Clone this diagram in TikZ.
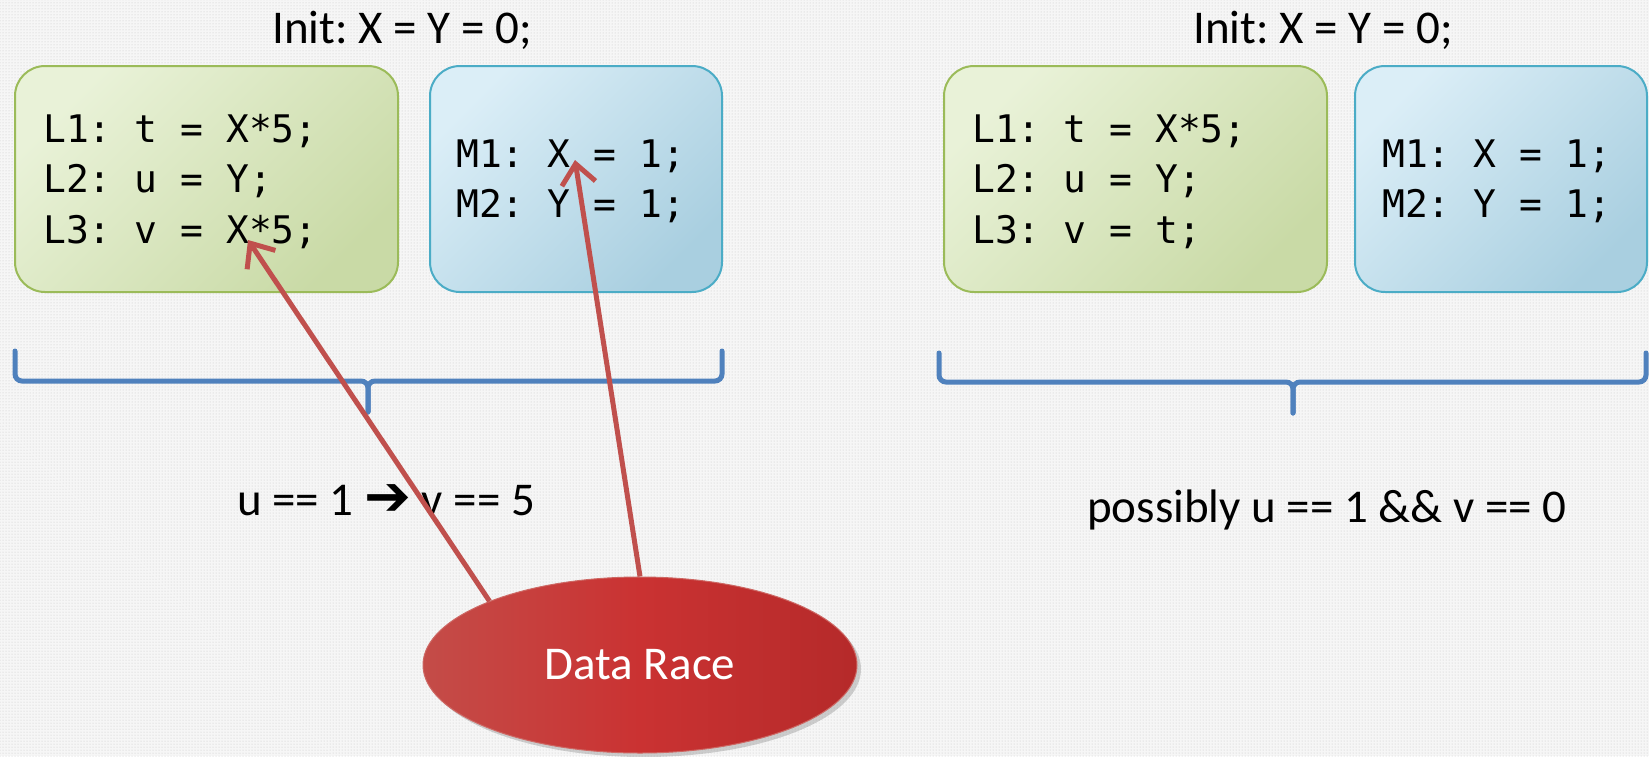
\documentclass[tikz,border=0pt]{standalone}
\usepackage{fontspec}
\setmainfont{Carlito}
\newfontfamily\codefont{DejaVu Sans Mono}
\newfontfamily\dingfont{DejaVu Sans}
\usetikzlibrary{arrows.meta,shapes.geometric,shadows,patterns}

\definecolor{boxgreenA}{RGB}{233,242,216}
\definecolor{boxgreenB}{RGB}{201,218,166}
\definecolor{boxgreenLine}{RGB}{155,187,89}
\definecolor{boxblueA}{RGB}{219,238,247}
\definecolor{boxblueB}{RGB}{169,207,224}
\definecolor{boxblueLine}{RGB}{75,172,198}
\definecolor{braceblue}{RGB}{79,129,189}
\definecolor{racered}{RGB}{192,80,77}
\definecolor{raceA}{RGB}{196,76,72}
\definecolor{raceB}{RGB}{202,50,50}
\definecolor{raceC}{RGB}{181,42,42}
\definecolor{paper}{RGB}{246,246,246}

\tikzset{
  codebox/.style={rounded corners=30pt, line width=2pt, inner sep=0pt,
     anchor=north west, minimum height=226pt},
  greenbox/.style={codebox, draw=boxgreenLine, minimum width=383pt,
     left color=boxgreenA, right color=boxgreenB, shading angle=45},
  bluebox/.style={codebox, draw=boxblueLine, minimum width=292pt,
     left color=boxblueA, right color=boxblueB, shading angle=45},
  codeline/.style={anchor=base west, inner sep=0pt,
     font=\codefont\fontsize{38pt}{46pt}\selectfont},
  slidetext/.style={inner sep=0pt, font=\fontsize{47pt}{56pt}\selectfont},
  bracket/.style={draw=braceblue, line width=5pt, rounded corners=7pt, line cap=round},
  racearrow/.style={draw=racered, line width=5pt,
     -{Straight Barb[length=20pt,width=34pt]}},
}

\begin{document}
\frenchspacing
\begin{tikzpicture}[x=1pt,y=-1pt]

\useasboundingbox (0,0) rectangle (1649,756);
\fill[paper] (0,0) rectangle (1649,756);
\fill[pattern=dots, pattern color=gray!45] (0,0) rectangle (1649,756);

% thread boxes
\node[greenbox] (lhsL) at (14,65) {};
\node[bluebox]  (lhsM) at (429,65) {};
\node[greenbox] (rhsL) at (943,65) {};
\node[bluebox]  (rhsM) at (1354,65) {};

\foreach \n/\x/\y/\t in
{   lhsL1/43/142/{L1: t = X*5;},
    lhsL2/43/192/{L2: u = Y;},
    lhsL3/43/243/{L3: v = X*5;},
    lhsM1/456/167/{M1: X = 1;},
    lhsM2/456/217/{M2: Y = 1;},
    rhsL1/972/142/{L1: t = X*5;},
    rhsL2/972/192/{L2: u = Y;},
    rhsL3/972/243/{L3: v = t;},
    rhsM1/1382/167/{M1: X = 1;},
    rhsM2/1382/217/{M2: Y = 1;}
}
{
    \node[codeline] (\n) at (\x,\y) {\t};
};

\node[slidetext, anchor=base] (initL) at (402,43) {Init: X = Y = 0;};
\node[slidetext, anchor=base] (initR) at (1323,43) {Init: X = Y = 0;};

% braces
\draw[bracket] (15,351) |- (368,381) -- (368,412);
\draw[bracket] (722,351) |- (368,381) -- (368,412);
\draw[bracket] (939,353) |- (1293,382) -- (1293,413);
\draw[bracket] (1646,353) |- (1293,382) -- (1293,413);

\node[slidetext, anchor=base west] (implies) at (237,515)
    {u == 1 {\dingfont\fontsize{56pt}{60pt}\selectfont ➔} v == 5};
\node[slidetext, anchor=base west] (maybe) at (1087,522)
    {possibly u == 1 \&\& v == 0};

\node[ellipse, slidetext, minimum width=434pt, minimum height=176pt,
    draw=raceA!85!white, line width=1pt, text=white,
    left color=raceA, right color=raceC, middle color=raceB,
    drop shadow={opacity=0.35, shadow xshift=4pt, shadow yshift=-4pt}]
    (race) at (640,665) {Data Race};

\coordinate (tipX) at (248,240);
\coordinate (tipM) at (575,160);
\draw[racearrow] (race.157) -- (tipX);
\draw[racearrow] (race.north) -- (tipM);

\end{tikzpicture}
\end{document}
